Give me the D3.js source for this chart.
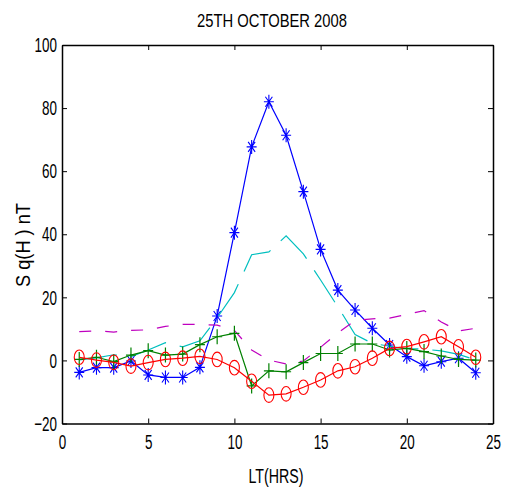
<!DOCTYPE html>
<html>
<head>
<meta charset="utf-8">
<script src="https://cdn.jsdelivr.net/npm/d3@7"></script>
<style>
  body { margin: 0; background: #fff; }
  svg text { font-family: "Liberation Sans", Arial, sans-serif; fill: #000; }
</style>
</head>
<body>
<div id="chart"></div>
<script>
// hours of local time
const hours = d3.range(1, 25);

// Sq(H) values in nT
const blueStar = [-3.8, -2.3, -2.3, -0.2, -4.6, -5.4, -5.4, -2.2, 14.1, 40.5, 67.7, 82, 71.4, 53.5, 35.2, 22.3, 16, 10.2, 4.9, 1.2, -1.7, -0.4, 0.7, -3.9];
const cyanDash = [0.2, 0.8, 1.8, 1.2, 3.3, 5.6, 4.3, 6.2, 13.5, 21.5, 33.5, 34.4, 39.5, 33.8, 25.5, 17, 8.2, 5.4, 4.5, 3.7, 3.6, 3.0, 1.9, 0.2];
const magentaDashDot = [9.1, 9.4, 9.0, 9.5, 9.7, 10.8, 11.4, 11.4, 11.2, 9.5, 3.3, 0.1, -1.1, -0.2, 4.2, 8.7, 12.7, 13.2, 13.4, 14.6, 15.8, 12.2, 9.3, 10.2];
const greenPlus = [0.3, 1.0, -0.4, 1.7, 3.1, 1.7, 2.0, 5.0, 7.5, 8.6, -8.1, -3.3, -3.6, -0.7, 2.2, 2.2, 5.2, 5.2, 3.3, 3.8, 2.8, 1.4, 0.3, 0.1];
const redCircle = [1.0, 0.1, -0.6, -1.8, -0.7, 0.3, 0.7, 1.3, 0.3, -2.3, -6.6, -11, -10.6, -8.5, -6.2, -3.3, -2.0, 0.7, 3.8, 4.4, 5.9, 7.5, 4.3, 1.0];

const xTicks = [0, 5, 10, 15, 20, 25];
const yTicks = [-20, 0, 20, 40, 60, 80, 100];

const width = 506, height = 492;
const margin = { top: 45, right: 13, bottom: 68.5, left: 62 };

const svg = d3.select("#chart").append("svg")
    .attr("width", width)
    .attr("height", height);

const x = d3.scaleLinear().domain([0, 25]).range([margin.left, width - margin.right]);
const y = d3.scaleLinear().domain([-20, 100]).range([height - margin.bottom, margin.top]);

const squeeze = 0.64;

// axes, ticks pointing inward like matlab
const bottom = svg.append("g")
    .attr("transform", `translate(0,${y(-20)})`)
    .call(d3.axisBottom(x).tickValues(xTicks).tickSizeInner(-5).tickSizeOuter(0).tickPadding(11));
bottom.selectAll("text")
    .attr("transform", `scale(${squeeze},1)`)
    .style("font-size", "21px");

const left = svg.append("g")
    .attr("transform", `translate(${x(0)},0)`)
    .call(d3.axisLeft(y).tickValues(yTicks).tickSizeInner(-5).tickSizeOuter(0).tickPadding(5));
left.selectAll("text")
    .attr("x", -5 / squeeze)
    .attr("transform", `scale(${squeeze},1)`)
    .style("font-size", "21px");

svg.append("g")
    .attr("transform", `translate(0,${y(100)})`)
    .call(d3.axisTop(x).tickValues(xTicks).tickSizeInner(-5).tickSizeOuter(0).tickFormat(""));

svg.append("g")
    .attr("transform", `translate(${x(25)},0)`)
    .call(d3.axisRight(y).tickValues(yTicks).tickSizeInner(-5).tickSizeOuter(0).tickFormat(""));

svg.selectAll(".domain").attr("stroke", "#000").attr("stroke-width", 1.5);
svg.selectAll(".tick line").attr("stroke", "#000");

const line = d3.line()
    .x((d, i) => x(hours[i]))
    .y(d => y(d));

const plot = svg.append("g");

function drawSeries(values, color, dash) {
    plot.append("path")
        .datum(values)
        .attr("fill", "none")
        .attr("stroke", color)
        .attr("stroke-width", 1.2)
        .attr("stroke-dasharray", dash)
        .attr("d", line);
}

drawSeries(blueStar, "#0000ff", null);
plot.selectAll(".star")
    .data(blueStar)
    .enter()
    .append("path")
    .attr("class", "star")
    .attr("transform", (d, i) => `translate(${x(hours[i])},${y(d)})`)
    .attr("d", "M-5,0H5M0,-7V7M-3.5,-5L3.5,5M-3.5,5L3.5,-5")
    .attr("stroke", "#0000ff")
    .attr("stroke-width", 1.1)
    .attr("fill", "none");

drawSeries(cyanDash, "#00bfbf", "38,14");
drawSeries(magentaDashDot, "#bf00bf", "12,14");

drawSeries(greenPlus, "#008000", null);
plot.selectAll(".plus")
    .data(greenPlus)
    .enter()
    .append("path")
    .attr("class", "plus")
    .attr("transform", (d, i) => `translate(${x(hours[i])},${y(d)})`)
    .attr("d", "M-5,0H5M0,-7.5V7.5")
    .attr("stroke", "#008000")
    .attr("stroke-width", 1.2)
    .attr("fill", "none");

drawSeries(redCircle, "#ff0000", null);
plot.selectAll(".ring")
    .data(redCircle)
    .enter()
    .append("ellipse")
    .attr("class", "ring")
    .attr("cx", (d, i) => x(hours[i]))
    .attr("cy", d => y(d))
    .attr("rx", 5)
    .attr("ry", 7.3)
    .attr("stroke", "#ff0000")
    .attr("stroke-width", 1.1)
    .attr("fill", "none");

// title and axis labels
svg.append("text")
    .attr("x", 272)
    .attr("y", 27)
    .attr("text-anchor", "middle")
    .attr("textLength", 150)
    .attr("lengthAdjust", "spacingAndGlyphs")
    .style("font-size", "19px")
    .text("25TH OCTOBER 2008");

svg.append("text")
    .attr("x", 276)
    .attr("y", 483)
    .attr("text-anchor", "middle")
    .attr("textLength", 55)
    .attr("lengthAdjust", "spacingAndGlyphs")
    .style("font-size", "20px")
    .text("LT(HRS)");

svg.append("text")
    .attr("transform", "translate(30,245) rotate(-90)")
    .attr("text-anchor", "middle")
    .attr("textLength", 84)
    .attr("lengthAdjust", "spacingAndGlyphs")
    .style("font-size", "20px")
    .text("S q(H ) nT");
</script>
</body>
</html>
